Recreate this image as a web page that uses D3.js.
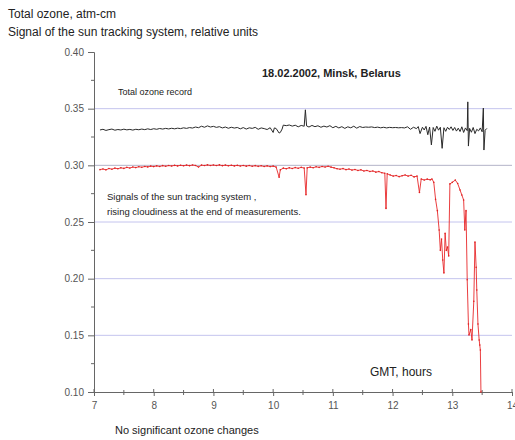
<!DOCTYPE html>
<html><head><meta charset="utf-8">
<script src="https://cdn.jsdelivr.net/npm/d3@7/dist/d3.min.js"></script>
<style>
body{margin:0;background:#fff;}
text{font-family:"Liberation Sans",Arial,sans-serif;}
</style></head>
<body><svg id="c" width="515" height="440"></svg>
<script>
// ---- data ----
const xTicks = [7, 8, 9, 10, 11, 12, 13, 14];
const yTicks = [0.10, 0.15, 0.20, 0.25, 0.30, 0.35, 0.40];
const gridValues = [0.15, 0.20, 0.25, 0.30, 0.35];

const ozoneHours = [7.10,7.15,7.20,7.25,7.30,7.35,7.40,7.45,7.50,7.55,7.60,7.65,7.70,7.75,7.80,7.85,7.90,7.95,8.00,8.05,8.10,8.15,8.20,8.25,8.30,8.35,8.40,8.45,8.50,8.55,8.60,8.65,8.70,8.75,8.80,8.85,8.90,8.95,9.00,9.05,9.10,9.15,9.20,9.25,9.30,9.35,9.40,9.45,9.50,9.55,9.60,9.65,9.70,9.75,9.80,9.85,9.90,9.95,10.00,10.02,10.05,10.10,10.12,10.15,10.17,10.22,10.27,10.32,10.37,10.42,10.47,10.52,10.54,10.56,10.60,10.65,10.70,10.75,10.80,10.85,10.90,10.95,11.00,11.05,11.10,11.15,11.20,11.25,11.30,11.35,11.40,11.45,11.50,11.55,11.60,11.65,11.70,11.75,11.80,11.85,11.90,11.95,12.00,12.05,12.10,12.15,12.20,12.25,12.30,12.35,12.40,12.43,12.46,12.50,12.53,12.56,12.59,12.62,12.65,12.68,12.71,12.74,12.77,12.80,12.83,12.86,12.89,12.92,12.95,12.98,13.01,13.04,13.07,13.10,13.13,13.16,13.19,13.22,13.25,13.26,13.27,13.29,13.32,13.35,13.38,13.41,13.44,13.47,13.50,13.52,13.53,13.55,13.58];
const ozoneValues = [.3312,.3318,.3308,.3315,.3320,.3310,.3316,.3312,.3319,.3313,.3317,.3311,.3318,.3314,.3320,.3315,.3322,.3316,.3323,.3318,.3325,.3320,.3326,.3321,.3327,.3322,.3328,.3324,.3331,.3326,.3333,.3329,.3338,.3332,.3345,.3336,.3348,.3338,.3344,.3335,.3341,.3330,.3338,.3327,.3336,.3329,.3334,.3322,.3333,.3320,.3331,.3326,.3335,.3318,.3330,.3324,.3316,.3332,.3290,.3330,.3325,.3285,.3290,.3320,.3355,.3350,.3356,.3346,.3354,.3340,.3352,.3345,.3490,.3348,.3338,.3352,.3341,.3349,.3336,.3346,.3338,.3350,.3332,.3344,.3330,.3341,.3326,.3340,.3331,.3345,.3328,.3342,.3334,.3338,.3336,.3339,.3333,.3337,.3331,.3336,.3330,.3335,.3332,.3334,.3331,.3333,.3330,.3340,.3318,.3336,.3324,.3342,.3280,.3336,.3312,.3344,.3270,.3338,.3180,.3334,.3300,.3346,.3310,.3336,.3150,.3332,.3300,.3336,.3316,.3340,.3308,.3334,.3302,.3328,.3298,.3340,.3290,.3330,.3306,.3560,.3170,.3326,.3292,.3334,.3280,.3318,.3304,.3330,.3296,.3505,.3135,.3310,.3326];

const signalHours = [7.10,7.15,7.20,7.25,7.30,7.35,7.40,7.45,7.50,7.55,7.60,7.65,7.70,7.75,7.80,7.85,7.90,7.95,8.00,8.05,8.10,8.15,8.20,8.25,8.30,8.35,8.40,8.45,8.50,8.55,8.60,8.65,8.70,8.75,8.80,8.85,8.90,8.95,9.00,9.05,9.10,9.15,9.20,9.25,9.30,9.35,9.40,9.45,9.50,9.55,9.60,9.65,9.70,9.75,9.80,9.85,9.90,9.95,10.00,10.05,10.10,10.12,10.17,10.22,10.27,10.32,10.37,10.42,10.47,10.52,10.55,10.57,10.62,10.67,10.72,10.77,10.82,10.87,10.92,10.97,11.02,11.07,11.12,11.17,11.22,11.27,11.32,11.37,11.42,11.47,11.52,11.57,11.62,11.67,11.72,11.77,11.82,11.87,11.89,11.91,11.96,12.01,12.06,12.11,12.16,12.21,12.26,12.31,12.36,12.41,12.45,12.48,12.53,12.58,12.63,12.66,12.69,12.72,12.75,12.78,12.80,12.82,12.84,12.86,12.88,12.90,12.92,12.94,12.96,13.00,13.05,13.09,13.13,13.16,13.19,13.21,13.23,13.25,13.27,13.28,13.31,13.33,13.36,13.38,13.40,13.41,13.43,13.45,13.46,13.47,13.48];
const signalValues = [.2962,.2968,.2960,.2972,.2966,.2975,.2970,.2978,.2973,.2982,.2976,.2985,.2980,.2988,.2983,.2990,.2986,.2993,.2989,.2995,.2990,.2997,.2992,.2998,.2994,.3000,.2995,.3001,.2996,.3002,.2997,.3003,.2999,.2985,.3002,.2998,.3004,.2999,.3003,.2998,.3004,.2997,.3002,.2996,.3001,.2995,.3000,.2994,.2999,.2993,.2998,.2992,.2997,.2991,.2996,.2990,.2995,.2989,.2993,.2985,.2895,.2960,.2975,.2970,.2978,.2972,.2980,.2974,.2982,.2976,.2740,.2978,.2984,.2979,.2987,.2982,.2990,.2985,.2992,.2984,.2978,.2970,.2966,.2971,.2962,.2967,.2958,.2963,.2955,.2960,.2950,.2955,.2946,.2950,.2940,.2945,.2935,.2930,.2620,.2925,.2915,.2905,.2910,.2900,.2908,.2915,.2905,.2912,.2898,.2905,.2760,.2880,.2870,.2878,.2872,.2880,.2850,.2700,.2600,.2430,.2250,.2350,.2165,.2050,.2400,.2250,.2280,.2200,.2836,.2850,.2870,.2840,.2782,.2738,.2694,.2430,.2600,.1990,.1600,.1503,.1550,.1459,.1800,.2324,.2100,.1900,.1600,.1459,.1415,.1371,.1000];

// ---- chart ----
const svg = d3.select("#c");
const x = d3.scaleLinear().domain([7, 14]).range([94, 512]);
const y = d3.scaleLinear().domain([0.10, 0.40]).range([392, 52]);

// grid
svg.append("g").selectAll("line").data(gridValues).join("line")
  .attr("x1", x(7)).attr("x2", x(14))
  .attr("y1", d => y(d)).attr("y2", d => y(d))
  .attr("stroke", d => d === 0.30 ? "#b4b4c8" : "#c4c4ee").attr("stroke-width", 1);

// y axis
const yAxis = svg.append("g").attr("transform", `translate(${x(7)},0)`)
  .call(d3.axisLeft(y).tickValues(yTicks).tickFormat(d3.format(".2f")).tickSize(6).tickPadding(4));
const yMinor = d3.range(0.125, 0.40, 0.05);
svg.append("g").selectAll("line").data(yMinor).join("line")
  .attr("x1", x(7) - 3).attr("x2", x(7)).attr("y1", d => y(d)).attr("y2", d => y(d))
  .attr("stroke", "#666");

// x axis
const xAxis = svg.append("g").attr("transform", `translate(0,${y(0.10)})`)
  .call(d3.axisBottom(x).tickValues(xTicks).tickFormat(d3.format("d")).tickSize(4).tickPadding(6));
const xMinor = d3.range(7.5, 14, 1);
svg.append("g").selectAll("line").data(xMinor).join("line")
  .attr("x1", d => x(d)).attr("x2", d => x(d)).attr("y1", y(0.10) - 2).attr("y2", y(0.10) + 3)
  .attr("stroke", "#666");
svg.append("g").selectAll("line").data(xTicks).join("line")
  .attr("x1", d => x(d)).attr("x2", d => x(d)).attr("y1", y(0.10) - 3).attr("y2", y(0.10))
  .attr("stroke", "#666");

[yAxis, xAxis].forEach(a => {
  a.select(".domain").attr("stroke", "#666");
  a.selectAll(".tick line").attr("stroke", "#666");
  a.selectAll(".tick text").attr("fill", "#555").style("font-size", "10px")
    .style("font-family", "'Liberation Sans', Arial, sans-serif");
});

// series
const line = d3.line().x(d => x(d[0])).y(d => y(d[1]));
const ozone = ozoneHours.map((h, i) => [h, ozoneValues[i]]);
const signal = signalHours.map((h, i) => [h, signalValues[i]]);

svg.append("path").datum(signal).attr("d", line)
  .attr("fill", "none").attr("stroke", "#e8282a").attr("stroke-width", 0.9);
svg.append("g").selectAll("circle").data(signal).join("circle")
  .attr("cx", d => x(d[0])).attr("cy", d => y(d[1])).attr("r", 0.8).attr("fill", "#e02020");

svg.append("path").datum(ozone).attr("d", line)
  .attr("fill", "none").attr("stroke", "#2a2a2a").attr("stroke-width", 1);

// texts
const t = (tx, ty, s, size, opts = {}) => svg.append("text").attr("x", tx).attr("y", ty)
  .attr("fill", opts.fill || "#222").style("font-size", size + "px")
  .style("font-weight", opts.bold ? "bold" : "normal").text(s);

t(8, 18, "Total ozone, atm-cm", 12);
t(8, 36, "Signal of the sun tracking system, relative units", 12);
t(262, 77, "18.02.2002, Minsk, Belarus", 11, {bold: true});
t(118, 95, "Total ozone record", 9);
t(107, 200, "Signals of the sun tracking system ,", 9.5);
t(107, 215, "rising cloudiness at the end  of  measurements.", 9.5);
t(370, 376, "GMT, hours", 12);
t(115, 434, "No significant ozone changes", 11);
</script></body></html>
